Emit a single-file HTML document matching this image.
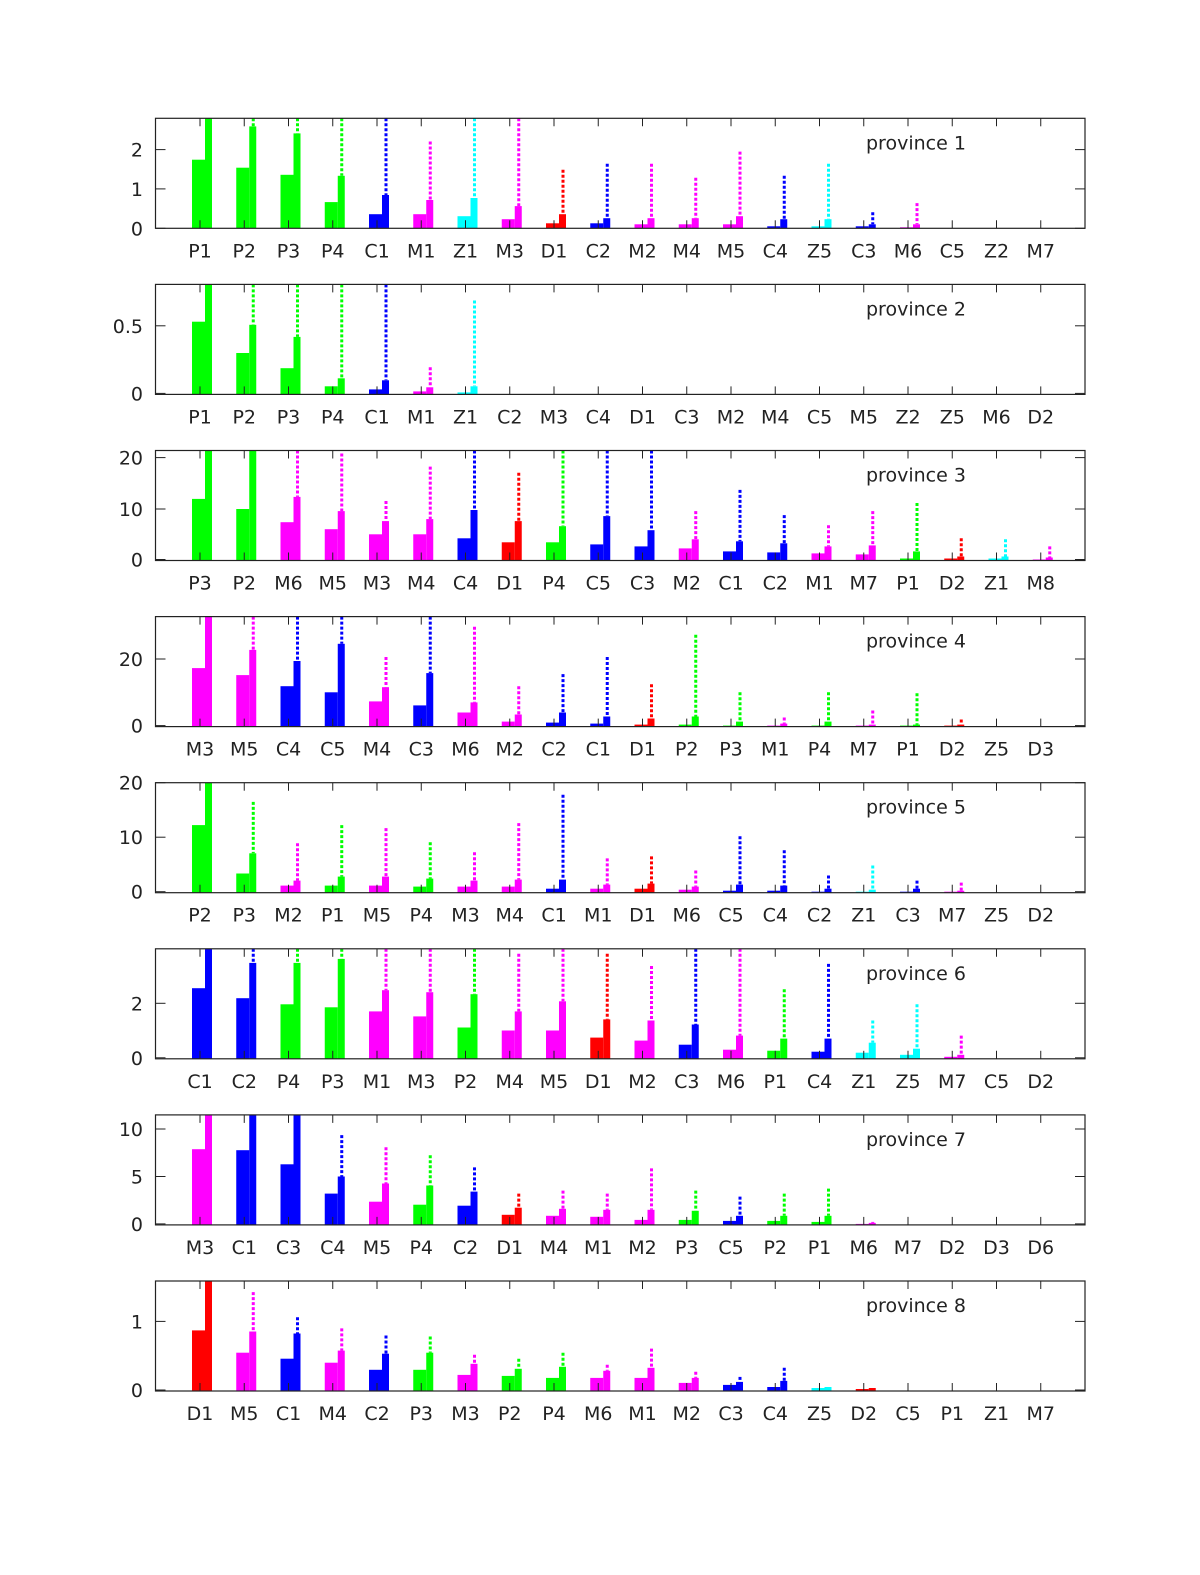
<!DOCTYPE html>
<html><head><meta charset="utf-8"><style>body{margin:0;background:#fff}svg{display:block}</style></head>
<body>
<svg id="s" width="1200" height="1575" xmlns="http://www.w3.org/2000/svg" font-family="DejaVu Sans, Liberation Sans, sans-serif" font-size="19" fill="#222"></svg>
<script>
const P=[
[118,[[0,227],[1,188],[2,149]],[["P1",159,118],["P2",167,126,118],["P3",174,133,118],["P4",201,175,118],["C1",213,194,118],["M1",213,199,141],["Z1",215,197,118],["M3",218,205,118],["D1",222,213,169],["C2",222,217,163],["M2",223,217,163],["M4",223,217,177],["M5",223,215,151],["C4",225,218,175],["Z5",225,218,163],["C3",225,223,211],["M6",226,223,202],["C5"],["Z2"],["M7"]]],
[284,[[0,392],["0.5",325]],[["P1",321,284],["P2",352,324,284],["P3",367,336,284],["P4",385,377,284],["C1",388,379,284],["M1",390,386,366],["Z1",391,385,300],["C2"],["M3"],["C4"],["D1"],["C3"],["M2"],["M4"],["C5"],["M5"],["Z2"],["Z5"],["M6"],["D2"]]],
[450,[[0,558],[10,508],[20,457]],[["P3",498,450],["P2",508,450],["M6",521,496,450],["M5",528,510,453],["M3",533,520,500],["M4",533,518,466],["C4",537,509,450],["D1",541,520,472],["P4",541,525,450],["C5",543,515,450],["C3",545,529,450],["M2",547,538,510],["C1",550,540,489],["C2",551,542,514],["M1",552,545,524],["M7",553,544,510],["P1",557,550,502],["D2",557,555,537],["Z1",557,555,538],["M8",558,556,545]]],
[615,[[0,723],[20,657]],[["M3",666,615],["M5",673,648,615],["C4",684,659,615],["C5",690,642,615],["M4",699,685,655],["C3",703,671,615],["M6",710,700,625],["M2",719,712,684],["C2",720,710,672],["C1",721,714,655],["D1",722,716,682],["P2",722,714,633],["P3",723,719,690],["M1",723,721,715],["P4",723,719,690],["M7",723,722,708],["P1",723,722,691],["D2",723,722,717],["Z5"],["D3"]]],
[781,[[0,889],[10,835],[20,781]],[["P2",823,781],["P3",871,851,800],["M2",883,878,841],["P1",883,874,823],["M5",883,874,826],["P4",884,876,840],["M3",884,878,850],["M4",884,877,821],["C1",886,877,793],["M1",886,882,856],["D1",886,881,854],["M6",887,884,868],["C5",888,882,834],["C4",888,883,848],["C2",889,886,873],["Z1",889,887,863],["C3",889,886,878],["M7",889,888,880],["Z5"],["D2"]]],
[946,[[0,1054],[2,1000]],[["C1",985,946],["C2",995,960,946],["P4",1001,960,946],["P3",1004,956,946],["M1",1008,987,946],["M3",1013,989,946],["P2",1024,991,946],["M4",1027,1008,951],["M5",1027,998,946],["D1",1034,1016,951],["M2",1037,1017,963],["C3",1041,1021,946],["M6",1046,1032,946],["P1",1047,1035,986],["C4",1048,1035,961],["Z1",1049,1039,1017],["Z5",1051,1045,1001],["M7",1053,1051,1032],["C5"],["D2"]]],
[1111,[[0,1219],[5,1172],[10,1125]],[["M3",1145,1111],["C1",1146,1111],["C3",1160,1111],["C4",1189,1172,1131],["M5",1197,1179,1143],["P4",1200,1181,1151],["C2",1201,1187,1163],["D1",1210,1203,1189],["M4",1211,1204,1186],["M1",1212,1205,1189],["M2",1215,1205,1164],["P3",1215,1206,1186],["C5",1216,1211,1192],["P2",1216,1211,1189],["P1",1217,1211,1184],["M6",1219,1218,1217],["M7"],["D2"],["D3"],["D6"]]],
[1276,[[0,1384],[1,1316]],[["D1",1325,1276],["M5",1347,1326,1287],["C1",1353,1328,1312],["M4",1357,1345,1323],["C2",1364,1348,1330],["P3",1364,1347,1331],["M3",1369,1358,1349],["P2",1370,1363,1353],["P4",1372,1361,1347],["M6",1372,1365,1359],["M1",1372,1362,1343],["M2",1377,1372,1366],["C3",1379,1376,1371],["C4",1381,1375,1362],["Z5",1382,1381],["D2",1383,1382],["C5"],["P1"],["Z1"],["M7"]]]
];
const col={P:"#00ff00",C:"#0000ff",M:"#ff00ff",Z:"#00ffff",D:"#ff0000"};
let h="";const L=155.5,R=1085,H=110;
P.forEach((p,k)=>{const o=p[0],top=118.3+166.1*k,bot=top+H;
 const m=y=>(top+(y-o)*H/109).toFixed(1);
 p[2].forEach((c,i)=>{const cx=200+44.25*i,cl=col[c[0][0]];
  if(c.length>1){const w=m(c[1]);h+=`<rect x="${cx-8}" y="${w}" width="13" height="${(bot-w).toFixed(1)}" fill="${cl}"/>`;
   const n=m(c[2]??c[1]);h+=`<rect x="${cx+5}" y="${n}" width="7" height="${(bot-n).toFixed(1)}" fill="${cl}"/>`;
   if(c[3]!==undefined)h+=`<line x1="${cx+9}" x2="${cx+9}" y1="${m(c[3])}" y2="${n}" stroke="${cl}" stroke-width="3" stroke-dasharray="3,2"/>`;}
  h+=`<line x1="${cx}" x2="${cx}" y1="${top}" y2="${top+8}" stroke="#222"/><line x1="${cx}" x2="${cx}" y1="${bot}" y2="${bot-8}" stroke="#222"/>`;
  h+=`<text x="${cx}" y="${bot+29}" text-anchor="middle">${c[0]}</text>`;});
 p[1].forEach(t=>{const y=m(t[1]);h+=`<line x1="${L}" x2="${L+10}" y1="${y}" y2="${y}" stroke="#222"/><line x1="${R}" x2="${R-10}" y1="${y}" y2="${y}" stroke="#222"/><text x="143" y="${(+y+7).toFixed(1)}" text-anchor="end">${t[0]}</text>`;});
 h+=`<rect x="${L}" y="${top}" width="${R-L}" height="${H}" fill="none" stroke="#222" stroke-width="1.2"/>`;
 h+=`<text x="866" y="${top+31}">province ${k+1}</text>`;});
document.getElementById("s").innerHTML=h;
</script>
</body></html>
